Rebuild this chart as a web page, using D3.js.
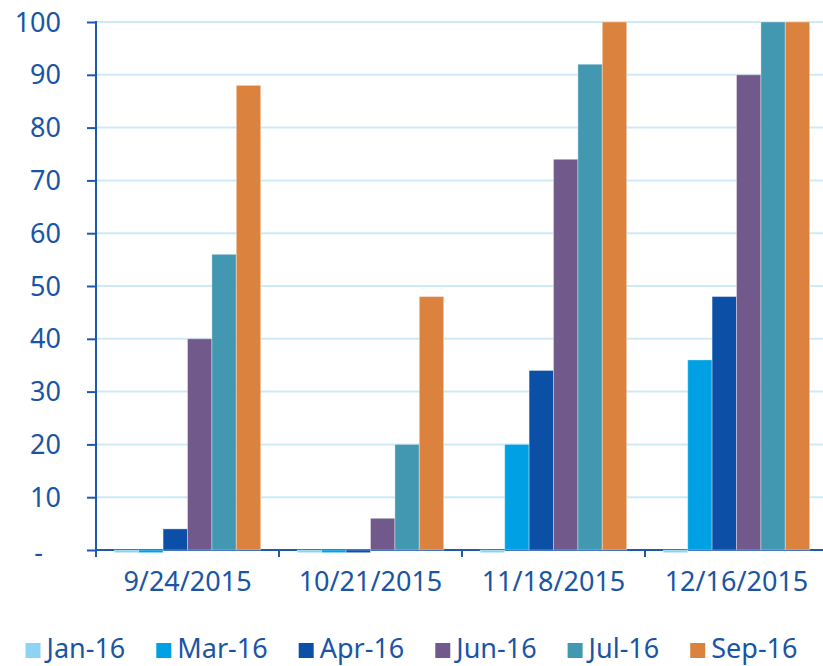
<head>
  <script src="https://cdnjs.cloudflare.com/ajax/libs/d3/7.8.5/d3.min.js"></script>
  <style>
    body { margin: 0; background: #fff; }
    text { font-family: "Noto Sans", "Open Sans", sans-serif; fill: #1a55a5; }
  </style>
</head>
<body>
  <svg id="chart"></svg>
  <script>
    // data
    var dates = ["9/24/2015", "10/21/2015", "11/18/2015", "12/16/2015"];
    var series = ["Jan-16", "Mar-16", "Apr-16", "Jun-16", "Jul-16", "Sep-16"];
    var colors = ["#8dd3f3", "#00a1e4", "#0b50a6", "#72598c", "#4398b1", "#db833e"];
    var jan16 = [-0.5, -0.5, -0.5, -0.5];
    var mar16 = [-0.5, -0.5, 20, 36];
    var apr16 = [4, -0.5, 34, 48];
    var jun16 = [40, 6, 74, 90];
    var jul16 = [56, 20, 92, 100];
    var sep16 = [88, 48, 100, 100];
    var yTicks = [0, 10, 20, 30, 40, 50, 60, 70, 80, 90, 100];

    var values = [jan16, mar16, apr16, jun16, jul16, sep16];
    var axisColor = "#1f5aa8";

    var W = 823, H = 666;
    var m = {left: 96, right: 828, top: 22, bottom: 550};

    var svg = d3.select("#chart")
        .attr("width", W)
        .attr("height", H);

    var x0 = d3.scaleBand()
        .domain(dates)
        .range([m.left, m.right])
        .paddingInner(0.2)
        .paddingOuter(0.1);

    var x1 = d3.scaleBand()
        .domain(series)
        .range([0, x0.bandwidth()]);

    var y = d3.scaleLinear()
        .domain([0, 100])
        .range([m.bottom, m.top]);

    // gridlines
    svg.append("g")
        .selectAll("line")
        .data(yTicks.filter(d => d > 0))
        .enter().append("line")
        .attr("x1", m.left)
        .attr("x2", W)
        .attr("y1", d => y(d))
        .attr("y2", d => y(d))
        .style("stroke", "#cdebf7")
        .style("stroke-width", 2);

    // x axis line (under the bars so negative slivers show)
    svg.append("line")
        .attr("x1", m.left).attr("x2", W)
        .attr("y1", m.bottom).attr("y2", m.bottom)
        .style("stroke", axisColor)
        .style("stroke-width", 2);

    // bars
    var groups = svg.append("g")
        .selectAll("g")
        .data(dates)
        .enter().append("g")
        .attr("transform", d => "translate(" + x0(d) + ",0)");

    groups.each(function(date, i) {
        var g = d3.select(this);
        series.forEach(function(s, j) {
            var v = values[j][i];
            g.append("rect")
                .attr("x", x1(s))
                .attr("width", x1.bandwidth())
                .attr("y", y(Math.max(0, v)))
                .attr("height", Math.abs(y(v) - y(0)))
                .style("fill", colors[j])
                .style("stroke", "#fff")
                .style("stroke-opacity", 0.35)
                .style("stroke-width", 1);
        });
    });

    // y axis
    var yAxis = svg.append("g")
        .attr("transform", "translate(" + m.left + ",0)")
        .call(d3.axisLeft(y)
            .tickValues(yTicks)
            .tickSize(9)
            .tickPadding(26)
            .tickFormat(d => d === 0 ? "-" : d));
    yAxis.select(".domain").remove();
    yAxis.selectAll(".tick line").style("stroke", axisColor).style("stroke-width", 2);
    yAxis.selectAll(".tick text")
        .style("font-size", "27px")
        .style("fill", "#1a55a5")
        .attr("x", d => d === 0 ? -53 : -35)
        .attr("dy", d => d === 0 ? "0.42em" : "0.34em");

    svg.append("line")
        .attr("x1", m.left).attr("x2", m.left)
        .attr("y1", m.top - 1).attr("y2", m.bottom + 7)
        .style("stroke", axisColor)
        .style("stroke-width", 2);

    // category boundary ticks
    var step = x0.step();
    svg.append("g")
        .selectAll("line")
        .data(dates)
        .enter().append("line")
        .attr("x1", d => x0(d) - step * 0.1)
        .attr("x2", d => x0(d) - step * 0.1)
        .attr("y1", m.bottom)
        .attr("y2", m.bottom + 7)
        .style("stroke", axisColor)
        .style("stroke-width", 2);

    svg.append("g")
        .selectAll("text")
        .data(dates)
        .enter().append("text")
        .attr("x", d => x0(d) + x0.bandwidth() / 2)
        .attr("y", 591)
        .attr("text-anchor", "middle")
        .style("font-size", "27px")
        .text(d => d);

    // legend
    var legend = svg.append("g");
    var items = legend.selectAll("g")
        .data(series)
        .enter().append("g");
    items.append("rect")
        .attr("width", 15)
        .attr("height", 15)
        .attr("y", 643)
        .style("fill", (d, i) => colors[i]);
    items.append("text")
        .attr("x", 21)
        .attr("y", 658)
        .style("font-size", "27px")
        .text(d => d);

    var pos = 0, gap = 31, offs = [];
    items.each(function() {
        offs.push(pos);
        pos += 21 + this.querySelector("text").getComputedTextLength() + gap;
    });
    var total = pos - gap;
    var start = (W - total) / 2;
    items.attr("transform", (d, i) => "translate(" + (start + offs[i]) + ",0)");
  </script>
</body>
